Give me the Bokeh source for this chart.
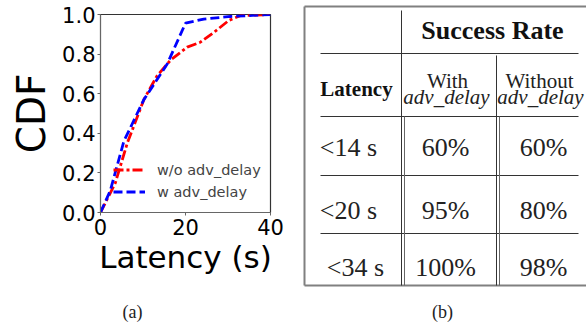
from bokeh.plotting import figure
from bokeh.models import (ColumnDataSource, Range1d, FixedTicker, PrintfTickFormatter,
                          Legend, LegendItem)
from bokeh.layouts import row, column
from bokeh.core.properties import value
from bokeh.embed import file_html
from bokeh.resources import INLINE

# ---------------- data ----------------
wo_latency = [0, 3.5, 6.3, 10.2, 13.3, 16.5, 20.4, 23.5, 26.7, 30.2, 33.0, 40]
wo_cdf = [0, 0.15, 0.35, 0.57, 0.69, 0.77, 0.835, 0.86, 0.91, 0.97, 0.995, 1.0]
w_latency = [0, 2.3, 5.5, 10.2, 15.7, 20.0, 24.3, 30.6, 40]
w_cdf = [0, 0.11, 0.36, 0.57, 0.75, 0.956, 0.977, 0.99, 1.0]

x_ticks = [0, 20, 40]
y_ticks = [0, 0.2, 0.4, 0.6, 0.8, 1.0]

table_latency = ["<14 s", "<20 s", "<34 s"]
table_with = [60, 95, 100]
table_without = [60, 80, 98]

captions = ["(a)", "(b)"]

SANS = "DejaVu Sans"
SERIF = "Liberation Serif"

TOP_H = 290

# ---------------- CDF figure ----------------
p = figure(width=300, height=TOP_H, output_backend="svg", toolbar_location=None,
           x_range=Range1d(0, 40), y_range=Range1d(0, 1.0),
           min_border_left=100, min_border_right=30, min_border_top=14,
           min_border_bottom=TOP_H - 212)
p.background_fill_color = "white"
p.border_fill_color = "white"
p.outline_line_color = "#333333"
p.outline_line_width = 1.2
p.grid.visible = False

r_wo = p.line(wo_latency, wo_cdf, line_color="red", line_width=2.8, line_dash="10 3 3 3")
r_w = p.line(w_latency, w_cdf, line_color="blue", line_width=2.8, line_dash="9 4")

for ax in (p.xaxis[0], p.yaxis[0]):
    ax.axis_line_color = "#666666"
    ax.major_tick_line_color = "#666666"
    ax.major_tick_out = 3
    ax.major_tick_in = 0
    ax.minor_tick_line_color = None
    ax.major_label_text_font = SANS
    ax.major_label_text_font_size = "21px"
    ax.major_label_text_color = "black"
    ax.axis_label_text_font = SANS
    ax.axis_label_text_font_style = "normal"
    ax.axis_label_text_color = "black"

p.xaxis.ticker = FixedTicker(ticks=x_ticks)
p.yaxis.ticker = FixedTicker(ticks=y_ticks)
p.yaxis.formatter = PrintfTickFormatter(format="%.1f")
p.xaxis.axis_label = "Latency (s)"
p.yaxis.axis_label = "CDF"
p.xaxis.axis_label_text_font_size = "31px"
p.yaxis.axis_label_text_font_size = "39px"
p.xaxis.major_label_standoff = 3
p.yaxis.major_label_standoff = 2
p.xaxis.axis_label_standoff = 1
p.yaxis.axis_label_standoff = 5

legend = Legend(items=[LegendItem(label="w/o adv_delay", renderers=[r_wo]),
                       LegendItem(label="w adv_delay", renderers=[r_w])],
                location=(8, 6), padding=5, margin=0, spacing=3,
                glyph_width=32, glyph_height=19, label_height=19, label_standoff=12,
                label_text_font=SANS, label_text_font_size="14.5px",
                background_fill_alpha=0, border_line_alpha=0)
p.add_layout(legend)

# ---------------- table figure ----------------
pt = figure(width=286, height=TOP_H, output_backend="svg", toolbar_location=None,
            x_range=Range1d(300, 586), y_range=Range1d(TOP_H, 0), min_border=0)
pt.axis.visible = False
pt.grid.visible = False
pt.outline_line_color = None

# layout of the table (pixel positions)
LEFT, SEP1, SEP2, RIGHT = 304, 401, 496, 590
INNER_L, INNER_R = 320, 578
TOP, HDR1, HDR2, BOTTOM = 6, 53, 116, 285
row_lines = [175, 233]
row_centers = [147, 210, 267]
label_cx = [348, 348, 355]
col_cx = [445, 543]

outer = dict(line_color="#808080", line_width=2)
inner = dict(line_color="#333333", line_width=1)
pt.segment(x0=[LEFT, LEFT, LEFT], y0=[TOP, TOP, BOTTOM], x1=[RIGHT, LEFT, RIGHT],
           y1=[TOP, BOTTOM, BOTTOM], **outer)
hy = [HDR1, HDR2] + row_lines
pt.segment(x0=[INNER_L] * len(hy), y0=hy, x1=[INNER_R] * len(hy), y1=hy, **inner)
# header verticals (single)
pt.segment(x0=[SEP1, SEP2], y0=[TOP + 4, HDR1 + 2], x1=[SEP1, SEP2], y1=[HDR2, HDR2], **inner)
# body verticals (double)
pt.segment(x0=[SEP1, SEP2], y0=[HDR2, HDR2], x1=[SEP1, SEP2], y1=[BOTTOM, BOTTOM], **inner)
pt.segment(x0=[SEP1 + 3, SEP2 + 3], y0=[HDR2, HDR2], x1=[SEP1 + 3, SEP2 + 3], y1=[BOTTOM, BOTTOM],
           line_color="#666666", line_width=1)

# header texts
pt.text(x=[492], y=[30], text=["Success Rate"], text_align="center", text_baseline="middle",
        text_font=value(SERIF), text_font_size="26px", text_font_style="bold", text_color="#111111")
pt.text(x=[356], y=[88], text=["Latency"], text_align="center", text_baseline="middle",
        text_font=value(SERIF), text_font_size="21px", text_font_style="bold", text_color="#111111")
pt.text(x=[447, 539], y=[80, 80], text=["With", "Without"], text_align="center",
        text_baseline="middle", text_font=value(SERIF), text_font_size="21px", text_color="#222222")
pt.text(x=[446, 540], y=[96, 96], text=["adv_delay", "adv_delay"], text_align="center",
        text_baseline="middle", text_font=value(SERIF), text_font_size="21px",
        text_font_style="italic", text_color="#222222")

# body texts
src = ColumnDataSource(dict(
    lx=label_cx, y=row_centers, lab=table_latency,
    wx=[col_cx[0]] * 3, wt=[f"{v}%" for v in table_with],
    ox=[col_cx[1]] * 3, ot=[f"{v}%" for v in table_without],
))
common = dict(y="y", source=src, text_align="center", text_baseline="middle",
              text_font=value(SERIF), text_font_size="26px", text_color="#222222")
pt.text(x="lx", text="lab", **common)
pt.text(x="wx", text="wt", **common)
pt.text(x="ox", text="ot", **common)

# ---------------- captions ----------------
pc = figure(width=586, height=324 - TOP_H, output_backend="svg", toolbar_location=None,
            x_range=Range1d(0, 586), y_range=Range1d(324, TOP_H), min_border=0)
pc.axis.visible = False
pc.grid.visible = False
pc.outline_line_color = None
pc.text(x=[132, 442], y=[311, 311], text=captions, text_align="center", text_baseline="middle",
        text_font=value(SERIF), text_font_size="18px", text_color="#222222")

layout = column(row(column(p), column(pt), spacing=0), column(pc), spacing=0)
open("out.html", "w").write(file_html(layout, INLINE))
